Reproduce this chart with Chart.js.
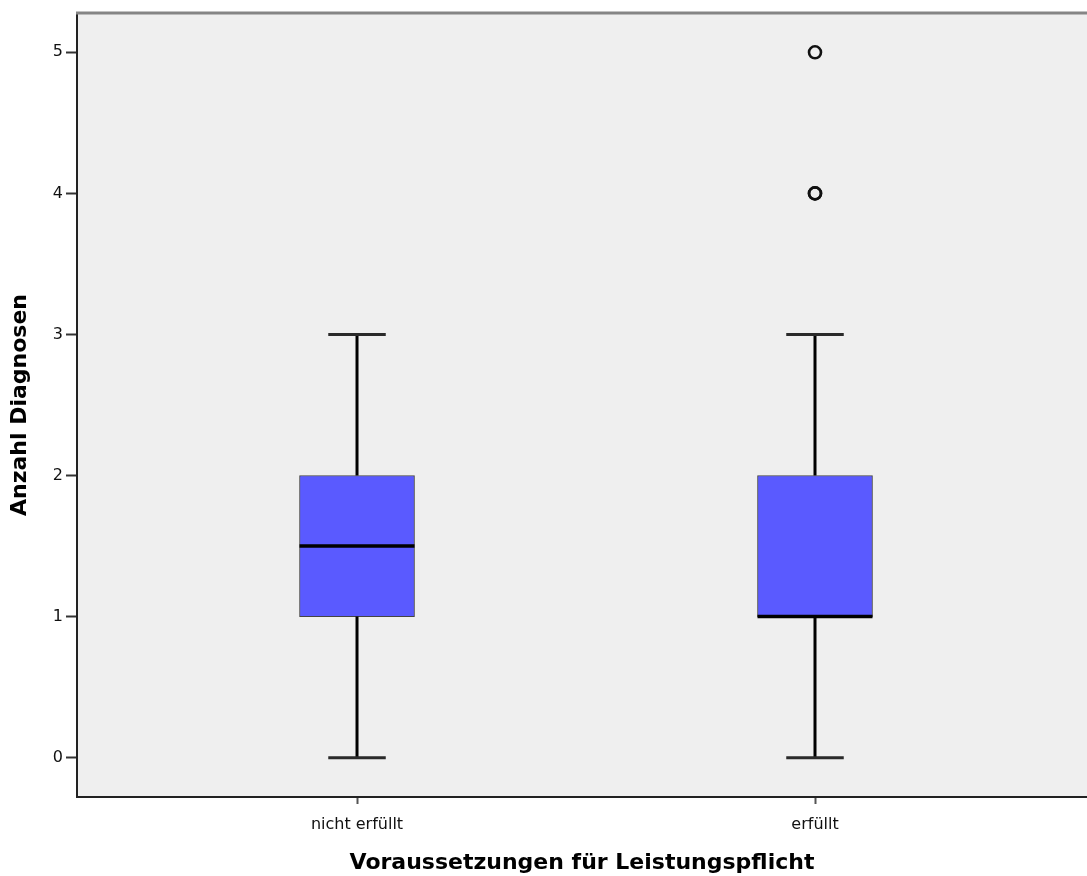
<!DOCTYPE html>
<html>
<head>
<meta charset="utf-8">
<script src="https://cdn.jsdelivr.net/npm/chart.js@4/dist/chart.umd.min.js"></script>
<style>
  html, body { margin: 0; padding: 0; background: #ffffff; }
  #wrap { width: 1087px; height: 876px; }
</style>
</head>
<body>
<div id="wrap"><canvas id="chart" width="1087" height="876"></canvas></div>
<script>
// Groups and five-number summaries of "Anzahl Diagnosen"
const categories = ['nicht erfüllt', 'erfüllt'];
const whiskerLow = [0, 0];
const quartile1 = [1, 1];
const medians = [1.5, 1];
const quartile3 = [2, 2];
const whiskerHigh = [3, 3];
const outlierValues = [[], [4, 4, 5]];
const yTickValues = [0, 1, 2, 3, 4, 5];

const boxColor = 'rgb(90, 90, 255)';

const boxData = categories.map((c, i) => ({ x: i, y: [quartile1[i], quartile3[i]] }));
const outlierData = [];
outlierValues.forEach((vals, i) => vals.forEach(v => outlierData.push({ x: i, y: v })));

// Plot background and the grey frame line along the top
const frame = {
  id: 'frame',
  beforeDraw(chart) {
    const { ctx, chartArea: a } = chart;
    ctx.save();
    ctx.fillStyle = '#efefef';
    ctx.fillRect(a.left, a.top, a.right - a.left, a.bottom - a.top);
    ctx.restore();
  },
  afterDraw(chart) {
    const { ctx, chartArea: a } = chart;
    ctx.save();
    ctx.strokeStyle = '#858585';
    ctx.lineWidth = 3;
    ctx.beginPath();
    ctx.moveTo(a.left - 1, a.top);
    ctx.lineTo(a.right, a.top);
    ctx.stroke();
    ctx.restore();
  }
};

// Whiskers, caps and median lines on top of the bar boxes
const boxParts = {
  id: 'boxParts',
  afterDatasetsDraw(chart) {
    const { ctx } = chart;
    const x = chart.scales.x, y = chart.scales.y;
    const bars = chart.getDatasetMeta(0).data;
    ctx.save();
    categories.forEach((c, i) => {
      const cx = x.getPixelForValue(i);
      const w = bars[i].width;
      const yLo = y.getPixelForValue(whiskerLow[i]);
      const yQ1 = y.getPixelForValue(quartile1[i]);
      const yQ3 = y.getPixelForValue(quartile3[i]);
      const yHi = y.getPixelForValue(whiskerHigh[i]);
      const yMed = y.getPixelForValue(medians[i]);
      // whisker stems
      ctx.strokeStyle = '#000';
      ctx.lineWidth = 3;
      ctx.beginPath();
      ctx.moveTo(cx, yQ3); ctx.lineTo(cx, yHi);
      ctx.moveTo(cx, yQ1); ctx.lineTo(cx, yLo);
      ctx.stroke();
      // caps
      ctx.strokeStyle = '#2a2a2a';
      ctx.lineWidth = 3;
      ctx.beginPath();
      ctx.moveTo(cx - w / 4, yHi); ctx.lineTo(cx + w / 4, yHi);
      ctx.moveTo(cx - w / 4, yLo); ctx.lineTo(cx + w / 4, yLo);
      ctx.stroke();
      // median
      ctx.strokeStyle = '#000';
      ctx.lineWidth = 3.5;
      ctx.beginPath();
      ctx.moveTo(cx - w / 2, yMed); ctx.lineTo(cx + w / 2, yMed);
      ctx.stroke();
    });
    ctx.restore();
  }
};

new Chart(document.getElementById('chart'), {
  type: 'bar',
  data: {
    datasets: [
      {
        type: 'bar',
        data: boxData,
        backgroundColor: boxColor,
        borderColor: '#444',
        borderWidth: 1,
        borderSkipped: false,
        barThickness: 115,
        order: 2
      },
      {
        type: 'scatter',
        data: outlierData,
        pointRadius: 6,
        pointHoverRadius: 6,
        borderWidth: 2.6,
        borderColor: '#111',
        backgroundColor: 'rgba(0,0,0,0)',
        order: 1
      }
    ]
  },
  options: {
    responsive: false,
    animation: false,
    events: [],
    layout: { autoPadding: false, padding: { top: 13, right: 0, left: 0, bottom: 0 } },
    plugins: { legend: { display: false }, tooltip: { enabled: false } },
    scales: {
      x: {
        type: 'linear',
        min: -0.6114,
        max: 1.5939,
        offset: false,
        afterBuildTicks(scale) { scale.ticks = categories.map((c, i) => ({ value: i })); },
        afterFit(scale) { scale.height = 79; scale.paddingLeft = 0; scale.paddingRight = 0; },
        grid: { display: true, offset: false, drawOnChartArea: false, drawTicks: true, tickLength: 7, tickColor: '#555', tickWidth: 2 },
        border: { display: true, color: '#222', width: 2 },
        ticks: {
          callback: (v) => categories[v],
          color: '#111',
          padding: 11,
          maxRotation: 0,
          autoSkip: false,
          font: { family: 'DejaVu Sans', size: 16 }
        },
        title: {
          display: true,
          text: 'Voraussetzungen für Leistungspflicht',
          color: '#000',
          padding: { top: 9, bottom: 0 },
          font: { family: 'DejaVu Sans', size: 22, weight: 'bold' }
        }
      },
      y: {
        type: 'linear',
        min: -0.2786,
        max: 5.2786,
        afterBuildTicks(scale) { scale.ticks = yTickValues.map(v => ({ value: v })); },
        afterFit(scale) { scale.width = 77; scale.paddingTop = 0; scale.paddingBottom = 0; },
        grid: { display: true, drawOnChartArea: false, drawTicks: true, tickLength: 11, tickColor: '#333', tickWidth: 2 },
        border: { display: true, color: '#222', width: 2 },
        ticks: {
          color: '#111',
          padding: 3,
          font: { family: 'DejaVu Sans', size: 16 }
        },
        title: {
          display: true,
          text: 'Anzahl Diagnosen',
          color: '#000',
          padding: { top: 7, bottom: 0 },
          font: { family: 'DejaVu Sans', size: 22, weight: 'bold' }
        }
      }
    }
  },
  plugins: [frame, boxParts]
});
</script>
</body>
</html>
